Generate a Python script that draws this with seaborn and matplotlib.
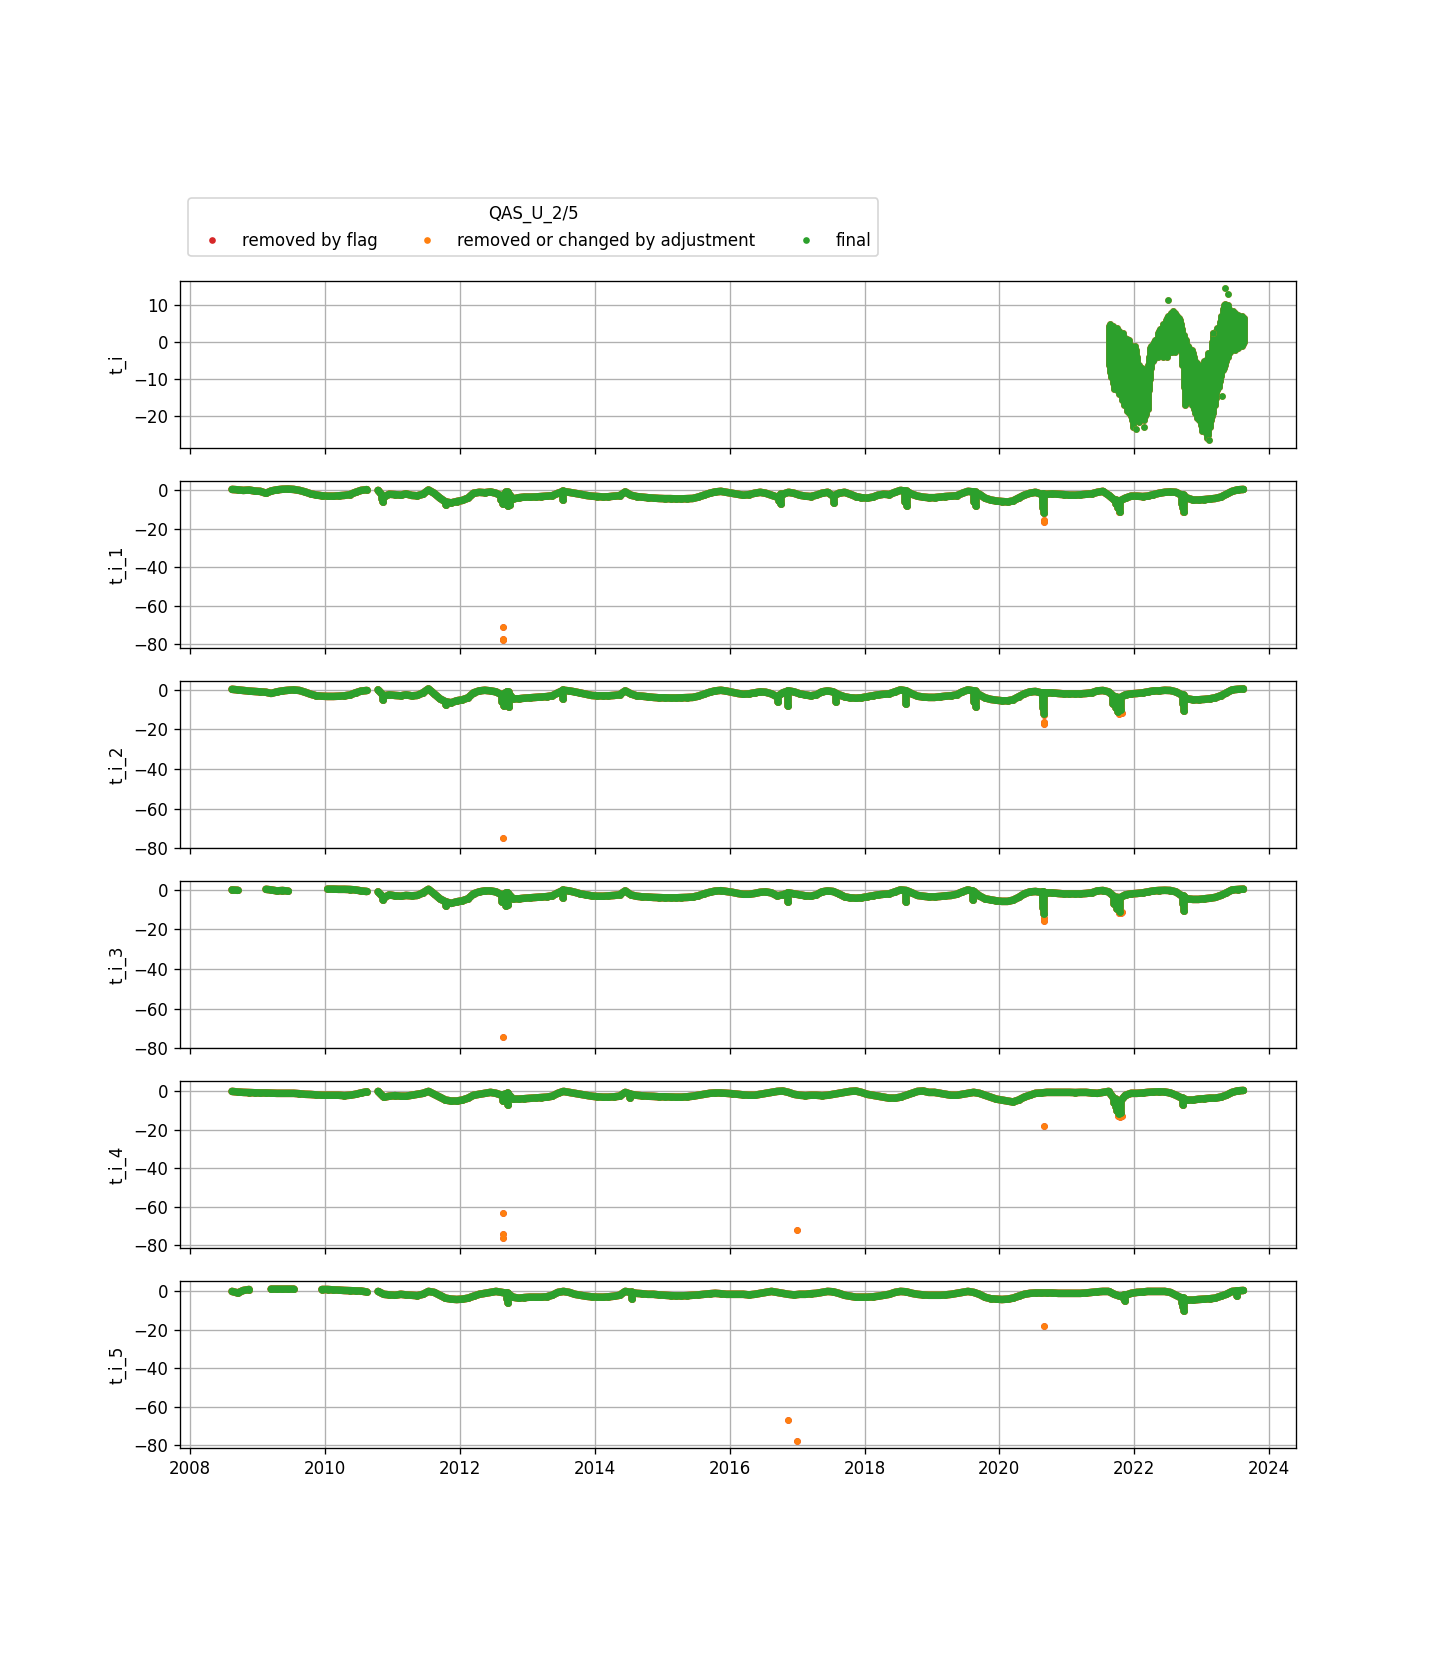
import numpy as np
import pandas as pd
import matplotlib
matplotlib.use("Agg")
import matplotlib.pyplot as plt
import seaborn as sns
from matplotlib.lines import Line2D

nan = np.nan

# monthly values, Aug 2008 .. Aug 2023
month_dates = pd.date_range("2008-08-01", periods=181, freq="MS") + pd.Timedelta(days=14)

t_i_1_vals = [
    0.5, 0.3, 0.0, 0.2, -0.3,
    -0.5, -1.5, -0.3, 0.3, 0.6, 0.7, 0.5, 0.0, -0.8, -1.8, -2.4, -2.8,
    -3.0, -3.0, -2.8, -2.6, -2.2, -1.0, 0.0, 0.4, nan, 0.0, -3.5, -2.0,
    -2.2, -2.5, -1.8, -2.6, -2.8, -2.0, 0.2, -1.5, -4.0, -6.0, -6.5, -5.8,
    -5.2, -4.0, -1.5, -1.0, -1.2, -0.8, -1.5, -3.0, -1.0, -4.5, -3.8, -3.5,
    -3.5, -3.4, -3.2, -3.0, -2.8, -1.5, -0.5, -1.0, -1.5, -2.0, -2.6, -3.0,
    -3.2, -3.4, -3.3, -3.0, -2.8, -0.8, -2.5, -3.2, -3.5, -3.8, -4.0, -4.2,
    -4.3, -4.3, -4.4, -4.4, -4.3, -4.2, -3.5, -2.5, -1.5, -0.8, -0.5, -1.0,
    -1.5, -2.0, -2.5, -2.2, -1.5, -1.0, -1.5, -2.5, -3.5, -2.0, -1.0, -1.5,
    -2.5, -3.0, -3.2, -2.5, -1.5, -1.0, -3.0, -1.5, -1.0, -2.0, -3.2, -3.8,
    -4.0, -3.5, -2.5, -2.0, -2.2, -1.0, 0.0, -0.5, -2.0, -3.0, -3.5, -3.8,
    -3.8, -3.5, -3.2, -3.0, -2.8, -1.5, -0.5, -0.8, -2.0, -4.0, -5.0, -5.5,
    -5.8, -6.0, -5.5, -4.0, -2.5, -1.5, -1.0, -2.0, -2.0, -1.8, -2.0, -2.2,
    -2.5, -2.5, -2.3, -2.0, -1.8, -1.0, -0.5, -2.5, -5.0, -5.5, -4.0, -3.0,
    -3.0, -3.2, -3.0, -2.2, -1.5, -1.0, -0.8, -1.0, -2.5, -4.0, -5.0, -5.0,
    -4.8, -4.5, -4.2, -3.5, -2.0, -0.5, 0.3, 0.5,
]
t_i_1_spike_dates = ["2010-11-05", "2010-11-12", "2011-10-20", "2012-08-10", "2012-08-20",
                     "2012-09-05", "2012-09-20", "2012-10-01", "2013-07-15", "2016-09-25",
                     "2016-10-05", "2017-07-20", "2018-08-10", "2018-08-20", "2019-08-15",
                     "2019-08-25", "2020-08-25", "2020-08-27", "2020-08-29", "2021-09-25",
                     "2021-10-05", "2021-10-15", "2022-09-15", "2022-09-20", "2022-09-25"]
t_i_1_spike_vals = [-4.5, -6.0, -7.5, -5.0, -7.0, -6.0, -8.0, -7.5, -5.0, -5.5, -7.0, -6.5,
                    -6.0, -8.0, -6.0, -8.0, -6.0, -9.0, -12.0, -7.0, -9.0, -11.0, -7.0, -9.0, -11.0]
t_i_1_adj_dates = ["2012-08-20", "2012-08-22", "2012-08-24", "2020-08-28", "2020-08-29",
                   "2020-08-30", "2021-10-08", "2022-09-24"]
t_i_1_adj_vals = [-71.0, -77.5, -78.0, -12.0, -15.5, -16.5, -11.5, -11.0]

t_i_2_vals = [
    0.3, 0.0, -0.3, -0.6, -0.8,
    -1.0, -1.2, -1.8, -1.0, -0.5, -0.2, 0.0, -0.3, -1.2, -2.2, -3.0, -3.2,
    -3.3, -3.3, -3.2, -3.0, -2.6, -1.5, -0.6, -0.3, nan, 0.0, -3.0, -2.5,
    -2.8, -3.0, -2.5, -3.0, -2.8, -1.5, 0.5, -2.0, -4.5, -6.0, -6.5, -5.5,
    -5.0, -4.0, -1.5, -0.5, -0.2, -0.5, -1.0, -2.5, -1.0, -4.5, -4.5, -4.2,
    -4.0, -3.8, -3.6, -3.4, -3.0, -1.5, -0.2, -0.5, -1.0, -1.6, -2.2, -2.8,
    -3.0, -3.0, -3.0, -2.8, -2.5, -0.5, -2.0, -3.0, -3.2, -3.5, -3.8, -4.0,
    -4.0, -4.1, -4.1, -4.0, -3.9, -3.8, -3.2, -2.2, -1.2, -0.5, -0.2, -0.6,
    -1.2, -1.8, -2.2, -2.0, -1.5, -1.0, -1.2, -2.0, -3.5, -1.5, -0.5, -1.0,
    -2.0, -2.5, -3.0, -2.5, -1.0, -0.5, -1.0, -2.5, -3.5, -4.0, -4.2, -4.0,
    -3.5, -3.0, -2.5, -2.2, -2.0, -1.0, 0.0, -0.5, -2.0, -3.2, -3.6, -3.8,
    -3.8, -3.5, -3.2, -3.0, -2.5, -1.0, 0.0, -0.5, -2.5, -4.0, -4.8, -5.2,
    -5.5, -5.5, -5.0, -3.5, -2.0, -1.0, -0.8, -1.5, -1.5, -1.5, -1.8, -2.0,
    -2.0, -2.0, -2.0, -1.8, -1.5, -0.5, -0.3, -1.0, -3.5, -4.0, -2.5, -2.0,
    -1.8, -1.5, -1.0, -0.5, -0.5, -0.2, -0.3, -1.0, -2.5, -4.5, -5.0, -5.0,
    -4.8, -4.5, -4.0, -3.0, -1.5, 0.0, 0.3, 0.5,
]
t_i_2_spike_dates = ["2010-11-08", "2011-10-20", "2012-08-15", "2012-08-25", "2012-09-10",
                     "2012-09-25", "2013-07-15", "2016-09-20", "2016-11-15", "2017-08-01",
                     "2018-08-15", "2019-08-15", "2019-08-25", "2020-08-25", "2020-08-27",
                     "2020-08-29", "2021-09-10", "2021-09-25", "2021-10-05", "2021-10-20",
                     "2022-09-20", "2022-09-25"]
t_i_2_spike_vals = [-5.0, -7.5, -6.0, -8.0, -7.0, -8.5, -4.5, -6.0, -8.0, -6.0, -7.0, -6.0,
                    -8.5, -6.0, -9.0, -12.0, -7.0, -9.0, -11.0, -10.0, -7.0, -10.5]
t_i_2_adj_dates = ["2012-08-22", "2020-08-28", "2020-08-29", "2020-08-30", "2021-10-10", "2021-10-25"]
t_i_2_adj_vals = [-75.0, -12.5, -16.0, -17.5, -12.0, -11.5]

t_i_3_vals = [
    0.0, -0.2, nan, nan, nan,
    nan, 0.3, 0.0, -0.5, -0.3, -0.6, nan, nan, nan, nan, nan, nan,
    0.4, 0.4, 0.3, 0.3, 0.2, 0.0, -0.5, -0.8, nan, -1.0, -4.0, -2.5,
    -3.0, -3.2, -2.8, -3.0, -2.8, -1.5, 0.3, -2.0, -4.5, -6.0, -6.8, -6.0,
    -5.5, -4.5, -2.0, -1.0, -0.5, -0.5, -1.0, -2.5, -1.5, -4.5, -4.5, -4.2,
    -4.0, -3.8, -3.6, -3.4, -3.0, -1.5, -0.2, -0.5, -1.2, -2.0, -2.5, -3.0,
    -3.2, -3.2, -3.0, -2.8, -2.5, -0.5, -2.5, -3.2, -3.5, -3.6, -3.8, -3.9,
    -4.0, -4.0, -4.0, -3.9, -3.8, -3.6, -3.0, -2.0, -1.2, -0.6, -0.4, -0.8,
    -1.2, -1.8, -2.2, -2.2, -1.8, -1.2, -1.0, -1.5, -3.0, -2.5, -1.5, -2.0,
    -2.5, -3.0, -3.2, -2.5, -1.0, -0.5, -0.8, -2.0, -3.5, -4.0, -4.2, -4.0,
    -3.5, -3.0, -2.5, -2.2, -2.0, -1.0, 0.0, -0.3, -1.5, -2.8, -3.2, -3.5,
    -3.5, -3.3, -3.0, -2.8, -2.2, -1.0, 0.0, -0.8, -3.0, -4.5, -5.0, -5.5,
    -5.8, -5.8, -5.2, -3.8, -2.0, -1.0, -0.8, -1.2, -1.5, -1.5, -1.8, -2.0,
    -2.0, -2.0, -2.0, -1.8, -1.5, -0.5, -0.3, -1.0, -3.5, -4.0, -2.5, -2.0,
    -1.8, -1.5, -1.0, -0.5, -0.3, -0.2, -0.3, -1.0, -3.0, -4.5, -4.8, -4.8,
    -4.5, -4.2, -3.8, -2.8, -1.5, 0.0, 0.2, 0.4,
]
t_i_3_spike_dates = ["2010-11-08", "2011-10-20", "2012-08-15", "2012-09-05", "2012-09-20",
                     "2013-07-15", "2016-11-15", "2018-08-15", "2019-08-10", "2020-08-25",
                     "2020-08-27", "2020-08-29", "2021-09-15", "2021-10-01", "2021-10-15",
                     "2022-09-20", "2022-09-25"]
t_i_3_spike_vals = [-5.0, -8.0, -6.0, -8.0, -7.5, -4.0, -6.0, -6.0, -5.0, -6.0, -9.0, -12.0,
                    -7.0, -9.5, -11.0, -7.0, -10.5]
t_i_3_adj_dates = ["2012-08-22", "2020-08-28", "2020-08-29", "2021-10-10", "2021-10-20", "2021-10-28"]
t_i_3_adj_vals = [-74.5, -14.0, -15.5, -11.5, -11.5, -11.0]

t_i_4_vals = [
    0.0, -0.3, -0.5, -0.6, -0.7,
    -0.8, -0.8, -0.9, -1.0, -1.0, -1.0, -1.0, -1.2, -1.5, -1.6, -1.8, -2.0,
    -2.0, -2.0, -2.0, -2.2, -2.0, -1.5, -0.8, -0.2, nan, 0.0, -3.0, -2.5,
    -2.2, -2.5, -2.5, -2.0, -1.5, -1.0, 0.0, -1.5, -3.0, -4.5, -5.0, -5.0,
    -4.5, -3.5, -2.0, -1.5, -1.0, -0.5, -1.0, -2.0, -1.0, -4.0, -4.0, -3.8,
    -3.6, -3.4, -3.2, -3.0, -2.5, -1.0, 0.0, -0.5, -1.0, -1.5, -2.0, -2.5,
    -2.8, -3.0, -3.0, -2.8, -2.5, -0.5, -1.5, -2.0, -2.3, -2.5, -2.6, -2.8,
    -2.8, -2.9, -3.0, -3.0, -2.8, -2.5, -2.0, -1.5, -1.0, -0.8, -0.8, -1.0,
    -1.2, -1.5, -1.8, -2.0, -2.0, -1.5, -1.0, -0.5, 0.0, 0.2, -0.5, -1.5,
    -2.0, -2.2, -2.0, -2.0, -2.2, -2.0, -1.5, -1.0, -0.5, 0.0, 0.2, -0.5,
    -1.5, -2.0, -2.5, -3.0, -3.5, -3.5, -3.0, -2.0, -1.0, 0.0, 0.2, -0.5,
    -0.5, -1.0, -1.5, -2.0, -2.0, -1.5, -1.0, -0.5, -1.0, -2.0, -3.0, -4.0,
    -4.5, -5.0, -5.5, -4.5, -3.0, -2.0, -1.0, -0.8, -0.5, -0.5, -0.5, -0.5,
    -0.5, -0.6, -0.5, -0.5, -0.8, -1.0, -0.5, 0.0, -4.0, -5.5, -2.0, -1.0,
    -1.0, -0.8, -0.5, -0.3, -0.2, -0.3, -0.8, -2.0, -3.5, -4.5, -4.5, -4.0,
    -3.8, -3.5, -3.5, -3.0, -2.0, -0.5, 0.3, 0.5,
]
t_i_4_spike_dates = ["2012-08-20", "2012-09-15", "2014-07-10", "2021-09-15", "2021-09-25",
                     "2021-10-01", "2021-10-10", "2021-10-20", "2022-09-20"]
t_i_4_spike_vals = [-5.0, -7.0, -3.5, -6.0, -8.0, -10.0, -12.0, -11.0, -7.0]
t_i_4_adj_dates = ["2012-08-20", "2012-08-22", "2012-08-24", "2016-12-30", "2020-08-28",
                   "2021-10-05", "2021-10-15", "2021-10-25"]
t_i_4_adj_vals = [-63.5, -74.0, -76.5, -72.0, -18.0, -13.0, -13.5, -13.0]

t_i_5_vals = [
    0.0, -0.8, 0.5, 1.0, nan,
    nan, nan, 1.2, 1.2, 1.2, 1.2, 1.2, nan, nan, nan, nan, 1.0,
    1.0, 0.8, 0.7, 0.5, 0.4, 0.3, 0.2, -0.3, nan, 0.0, -1.5, -1.8,
    -2.0, -1.5, -1.8, -2.0, -2.2, -1.5, 0.0, -0.5, -2.0, -3.5, -4.0, -4.2,
    -4.0, -3.5, -2.5, -1.5, -1.0, -0.5, 0.0, -0.5, -1.0, -3.0, -3.5, -3.2,
    -3.0, -3.0, -3.0, -2.8, -2.0, -0.5, 0.0, -0.5, -1.5, -2.0, -2.5, -2.8,
    -3.0, -3.0, -2.8, -2.5, -2.0, 0.0, -0.5, -1.0, -1.2, -1.5, -1.5, -1.8,
    -2.0, -2.2, -2.3, -2.3, -2.2, -2.0, -1.8, -1.5, -1.2, -1.0, -1.2, -1.5,
    -1.5, -1.5, -1.5, -1.8, -1.5, -1.0, -0.5, 0.0, -0.5, -1.0, -1.5, -1.8,
    -1.5, -1.5, -1.2, -1.0, -0.5, 0.0, -0.2, -1.0, -2.0, -2.5, -3.0, -3.0,
    -3.0, -2.8, -2.5, -2.0, -1.5, -0.5, 0.0, -0.2, -1.0, -1.5, -1.8, -2.0,
    -2.0, -2.0, -1.8, -1.5, -1.0, -0.5, 0.0, -0.5, -1.5, -3.0, -3.8, -4.0,
    -4.2, -4.0, -3.5, -2.5, -1.5, -1.0, -0.8, -0.8, -0.8, -0.8, -1.0, -1.0,
    -1.0, -1.0, -1.0, -0.8, -0.5, -0.2, 0.0, 0.0, -1.5, -2.5, -2.0, -1.0,
    -0.5, -0.3, 0.0, 0.0, 0.0, 0.0, -0.5, -2.0, -3.5, -4.5, -4.5, -4.2,
    -4.0, -3.8, -3.5, -2.5, -1.5, 0.0, 0.3, 0.5,
]
t_i_5_spike_dates = ["2012-09-10", "2012-09-20", "2014-07-20", "2021-11-05", "2021-11-10",
                     "2022-09-18", "2022-09-22", "2022-09-26", "2023-07-10"]
t_i_5_spike_vals = [-4.0, -6.0, -4.0, -4.0, -5.0, -6.0, -8.0, -10.0, -2.5]
t_i_5_adj_dates = ["2016-11-10", "2016-12-30", "2020-08-28"]
t_i_5_adj_vals = [-67.0, -78.0, -18.0]

# t_i only runs from Aug 2021: weekly upper / lower edge of the point cloud
t_i_dates = pd.date_range("2021-08-16", periods=106, freq="7D")
t_i_hi = [
    4.5, 5.0, 4.0, 4.5, 3.5, 3.0, 4.0, 2.5, 3.0, 2.0,
    1.0, 2.5, 1.5, 0.0, 1.0, -1.0, 0.5, -2.0, -1.0, -3.0,
    -1.0, -2.0, -4.0, -6.0, -7.5, -8.0, -7.0, -9.0, -8.0, -7.5,
    -6.0, -4.0, -1.5, -1.0, -0.5, 0.0, 0.5, 1.0, 2.5, 3.0,
    3.5, 4.0, 5.0, 4.5, 6.0, 6.5, 7.0, 7.5, 8.0, 8.0,
    8.5, 8.0, 7.5, 7.0, 6.5, 6.0, 5.0, 3.5, 2.0, 1.0,
    0.5, -1.0, -1.5, -2.5, -2.0, -3.0, -4.0, -5.0, -5.5, -6.0,
    -6.5, -7.5, -7.0, -6.0, -5.0, -6.0, -4.5, -3.0, -4.0, -2.5,
    0.0, 2.5, 1.0, 3.0, 4.0, 4.0, 5.5, 7.0, 9.0, 10.0,
    10.5, 9.5, 10.0, 9.0, 8.5, 8.0, 8.5, 7.5, 8.0, 7.0,
    7.5, 7.0, 6.5, 7.0, 6.0, 6.5,
]
t_i_lo = [
    -6.0, -8.0, -9.5, -11.0, -12.5, -12.0, -13.0, -12.5, -14.0, -13.0,
    -15.5, -15.0, -17.0, -16.0, -18.5, -18.0, -19.0, -20.0, -21.0, -23.0,
    -21.0, -20.0, -19.5, -21.5, -20.5, -20.0, -19.0, -21.0, -20.0, -19.5,
    -18.0, -13.0, -10.0, -7.0, -5.0, -4.5, -4.0, -3.5, -4.0, -3.0,
    -3.5, -3.0, -4.0, -3.5, -3.0, -4.0, -3.0, -2.5, -2.0, -2.5,
    -2.0, -2.5, -1.5, -1.0, -1.5, -2.0, -1.5, -6.0, -12.0, -17.0,
    -16.5, -15.0, -16.0, -15.5, -17.0, -16.0, -18.0, -19.0, -20.5, -19.5,
    -21.0, -22.5, -24.0, -23.0, -22.0, -24.5, -26.0, -25.0, -23.0, -21.0,
    -20.0, -19.0, -17.0, -15.0, -13.0, -12.0, -10.5, -9.0, -7.5, -7.0,
    -6.0, -5.0, -4.0, -3.0, -2.5, -2.0, -1.5, -1.0, -2.0, -1.0,
    -1.5, -1.0, -0.5, -1.0, -0.5, 0.0,
]
t_i_extra_dates = ["2022-01-10", "2022-02-20", "2022-07-05", "2023-02-08", "2023-03-03",
                   "2023-04-20", "2023-05-08", "2023-05-22"]
t_i_extra_vals = [-23.5, -22.8, 11.5, -26.5, 2.5, -14.5, 14.6, 13.0]

RED = "#d62728"
ORANGE = "#ff7f0e"
GREEN = "#2ca02c"
labels = ["removed by flag", "removed or changed by adjustment", "final"]
BAND_LW = 4.5


def dots(ax, df, color):
    sns.scatterplot(data=df, x="time", y="value", ax=ax, color=color, s=9,
                    linewidth=1, edgecolor=color, legend=False, zorder=2)


def draw_series(ax, vals, spike_dates, spike_vals, adj_dates, adj_vals):
    monthly = pd.DataFrame({"time": month_dates, "value": vals})
    spikes = pd.DataFrame({"time": pd.to_datetime(spike_dates), "value": spike_vals})
    # a spike hangs down from the value of its own month
    by_month = pd.Series(vals, index=month_dates.to_period("M"))
    spikes["top"] = [by_month[t.to_period("M")] for t in spikes["time"]]
    spikes["top"] = spikes["top"].fillna(spikes["value"])
    final = pd.concat([monthly, spikes[["time", "value"]]], ignore_index=True).dropna()
    adj = pd.DataFrame({"time": pd.to_datetime(adj_dates), "value": adj_vals})
    raw = pd.concat([final, adj], ignore_index=True)
    for df, c in [(raw, RED), (raw, ORANGE), (final, GREEN)]:
        ax.plot(monthly["time"], monthly["value"], color=c, lw=BAND_LW,
                solid_capstyle="round", solid_joinstyle="round", zorder=2)
        lc = ax.vlines(spikes["time"], spikes["value"], spikes["top"], colors=c,
                       linewidth=BAND_LW, zorder=2)
        lc.set_capstyle("round")
        dots(ax, df, c)


fig, axes = plt.subplots(6, 1, sharex=True, figsize=(12, 1655 / 120), dpi=120)
fig.subplots_adjust(left=0.125, right=0.9, top=0.83, bottom=0.125, hspace=0.2)

# t_i: dense cloud drawn as weekly ranges plus a few stray points
ax = axes[0]
for c in [RED, ORANGE, GREEN]:
    lc = ax.vlines(t_i_dates, t_i_lo, t_i_hi, colors=c, linewidth=4, zorder=2)
    lc.set_capstyle("round")
extra = pd.DataFrame({"time": pd.to_datetime(t_i_extra_dates), "value": t_i_extra_vals})
dots(ax, extra, ORANGE)
dots(ax, extra, GREEN)

series = [
    ("t_i_1", t_i_1_vals, t_i_1_spike_dates, t_i_1_spike_vals, t_i_1_adj_dates, t_i_1_adj_vals),
    ("t_i_2", t_i_2_vals, t_i_2_spike_dates, t_i_2_spike_vals, t_i_2_adj_dates, t_i_2_adj_vals),
    ("t_i_3", t_i_3_vals, t_i_3_spike_dates, t_i_3_spike_vals, t_i_3_adj_dates, t_i_3_adj_vals),
    ("t_i_4", t_i_4_vals, t_i_4_spike_dates, t_i_4_spike_vals, t_i_4_adj_dates, t_i_4_adj_vals),
    ("t_i_5", t_i_5_vals, t_i_5_spike_dates, t_i_5_spike_vals, t_i_5_adj_dates, t_i_5_adj_vals),
]
for ax, (name, vals, sd, sv, ad, av) in zip(axes[1:], series):
    draw_series(ax, vals, sd, sv, ad, av)

names = ["t_i"] + [s[0] for s in series]
ylims = [(-28.6, 16.5), (-82.1, 4.7), (-77.8, 4.3), (-77.8, 4.3), (-81.6, 5.2), (-81.6, 5.2)]
for ax, name, yl in zip(axes, names, ylims):
    ax.set_ylabel(name)
    ax.set_xlabel("")
    ax.set_ylim(*yl)
    ax.grid(True)
axes[0].set_yticks([10, 0, -10, -20])
for ax in axes[1:]:
    ax.set_yticks([0, -20, -40, -60, -80])
axes[-1].set_xlim(pd.Timestamp("2007-11-07"), pd.Timestamp("2024-05-26"))

handles = [Line2D([0], [0], marker="o", ls="", color=c, markersize=3, markeredgewidth=1)
           for c in [RED, ORANGE, GREEN]]
axes[0].legend(handles=handles, labels=labels, loc="lower left", bbox_to_anchor=(0, 1.1),
               ncol=3, title="QAS_U_2/5")

fig.savefig("out.png", dpi=120)
